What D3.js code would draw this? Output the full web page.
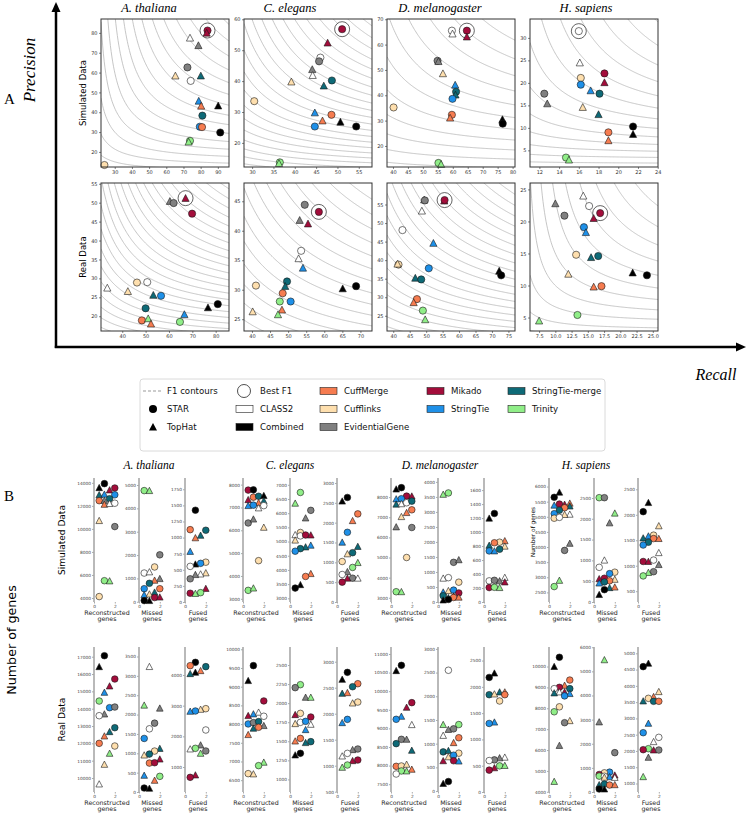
<!DOCTYPE html>
<html>
<head>
<meta charset="utf-8">
<script src="https://cdn.jsdelivr.net/npm/d3@7"></script>
<style>
  body { margin: 0; background: #fff; }
  svg { display: block; }
</style>
</head>
<body>
<svg id="chart" width="749" height="813"></svg>
<script>
// ---- methods / legend ----
const methodCodes  = ['CL', 'CO', 'CM', 'CU', 'EG', 'MI', 'ST', 'SM', 'TR'];
const methodNames  = ['CLASS2', 'Combined', 'CuffMerge', 'Cufflinks', 'EvidentialGene', 'Mikado', 'StringTie', 'StringTie-merge', 'Trinity'];
const methodColors = ['#ffffff', '#000000', '#f67c50', '#fedfae', '#808080', '#a30d3b', '#1e90e8', '#0e6a77', '#90ee88'];
const alignerNames = ['STAR', 'TopHat'];
const speciesNames = ['A. thaliana', 'C. elegans', 'D. melanogaster', 'H. sapiens'];
const rowNames     = ['Simulated Data', 'Real Data'];
const categoryNames = [['Reconstructed', 'genes'], ['Missed', 'genes'], ['Fused', 'genes']];

// ---- panel A: [method, aligner, recall, precision] ----
const athSim = [['MI','S',84.0,81.2],['MI','T',83.5,80.0],['CL','T',73.8,77.5],['EG','T',78.7,73.7],['EG','S',72.3,62.6],['CU','T',65.3,58.4],['SM','T',80.1,58.4],['CL','S',74.2,55.8],['ST','T',78.9,45.7],['CM','T',80.3,43.2],['CO','T',90.2,43.3],['SM','S',81.0,38.3],['ST','S',79.5,32.7],['CM','S',80.8,32.5],['CO','S',91.4,29.8],['TR','S',73.8,25.6],['TR','T',73.0,25.1],['CU','S',24.0,13.4]];
const celSim = [['MI','S',51.1,56.8],['MI','T',47.7,52.4],['CL','S',46.0,47.6],['EG','S',45.7,46.4],['EG','T',44.1,43.8],['CL','T',44.2,41.9],['SM','S',48.7,40.2],['CU','T',39.2,39.8],['SM','T',46.8,38.5],['CU','S',30.5,33.5],['ST','T',44.7,29.8],['CM','S',48.6,29.1],['CM','T',46.5,27.2],['CO','T',50.7,26.8],['ST','S',44.7,25.3],['CO','S',54.4,25.3],['TR','S',36.5,13.7],['TR','T',36.3,13.4]];
const dmeSim = [['CU','S',40.2,35.2],['CL','S',59.7,65.5],['CL','T',59.9,64.3],['MI','S',64.7,65.5],['MI','T',64.7,63.1],['EG','S',54.9,53.6],['EG','T',55.2,53.4],['CU','T',56.7,48.6],['ST','T',60.8,44.1],['SM','S',61.1,41.4],['SM','T',60.9,40.2],['ST','S',59.9,38.6],['CM','S',59.7,32.3],['CM','T',59.1,31.1],['CO','T',76.6,30.5],['CO','S',76.7,28.8],['TR','S',55.2,13.3],['TR','T',56.1,12.8]];
const hsaSim = [['CL','S',16.0,31.5],['CL','T',16.1,24.5],['MI','S',18.6,22.1],['MI','T',18.6,20.1],['CU','S',16.2,21.1],['ST','S',16.2,19.6],['ST','T',17.2,18.3],['EG','S',12.5,17.6],['SM','S',18.1,17.6],['EG','T',12.8,15.4],['CU','T',16.4,14.6],['SM','T',18.0,13.0],['CO','S',21.5,10.3],['CO','T',21.5,8.6],['CM','S',19.0,9.0],['CM','T',19.0,7.2],['TR','S',14.7,3.4],['TR','T',15.0,2.9]];
const athReal = [['MI','T',67.1,51.2],['EG','T',60.4,50.4],['EG','S',62.0,49.9],['MI','S',69.9,47.1],['CL','T',33.6,27.5],['CU','S',46.3,28.9],['CL','S',50.7,29.0],['CU','T',42.4,26.6],['SM','T',53.3,25.6],['ST','S',56.6,25.4],['SM','S',50.0,22.1],['CO','T',76.7,22.3],['CO','S',80.9,23.2],['ST','T',66.6,20.5],['CM','S',48.4,18.9],['TR','T',51.1,19.4],['CM','T',52.3,18.0],['TR','S',64.7,18.5]];
const celReal = [['EG','S',54.6,44.4],['MI','S',58.5,43.2],['EG','T',53.2,41.8],['MI','T',55.5,41.2],['CL','S',53.6,36.6],['CL','T',52.9,35.3],['ST','T',54.1,33.7],['SM','S',49.7,31.4],['SM','T',49.2,30.6],['CU','S',41.1,30.7],['CO','T',65.1,30.2],['CO','S',68.8,30.6],['CM','S',48.5,29.4],['TR','S',47.7,28.0],['ST','S',50.7,28.0],['CM','T',48.3,26.6],['CU','T',40.2,26.3],['TR','T',47.2,25.8]];
const dmeReal = [['EG','T',49.4,56.3],['EG','S',49.6,56.1],['MI','T',55.5,56.0],['MI','S',55.6,56.2],['CL','T',48.7,53.3],['CL','S',42.8,48.1],['CU','S',41.6,38.8],['CU','T',41.3,39.0],['ST','T',52.2,44.6],['ST','S',50.8,37.8],['SM','T',46.7,35.2],['SM','S',48.5,34.8],['CM','S',47.2,29.5],['CM','T',46.2,28.6],['CO','T',72.2,37.1],['CO','S',72.8,35.9],['TR','S',49.0,26.4],['TR','T',49.7,24.0]];
const hsaReal = [['CL','T',14.3,24.0],['EG','T',10.0,22.8],['CL','S',15.2,22.4],['MI','S',16.9,21.3],['EG','S',11.4,20.9],['MI','T',15.9,20.5],['ST','S',14.4,19.1],['ST','T',14.7,18.3],['CU','S',13.2,14.8],['SM','T',15.5,14.4],['SM','S',16.6,14.6],['CU','T',12.0,11.8],['CO','T',21.9,12.0],['CO','S',24.1,11.6],['CM','T',15.9,9.8],['CM','S',17.1,9.9],['TR','S',13.4,5.4],['TR','T',7.5,4.5]];

const prXDomains = [[22,96.5],[28.1,58.1],[38,80.8],[11.05,24.03],[30.9,85.7],[37.8,73.2],[38.1,77],[6.1,25.8]];
const prYDomains = [[12.4,87],[12.2,60.1],[11.7,70.1],[1.3,34.2],[16.1,55.2],[23,48.1],[20.9,60.8],[2.9,26]];
const prXTicks = [[30,40,50,60,70,80,90],[30,35,40,45,50,55],[40,45,50,55,60,65,70,75,80],[12,14,16,18,20,22,24],[40,50,60,70,80],[40,45,50,55,60,65,70],[40,45,50,55,60,65,70,75],[7.5,10,12.5,15,17.5,20,22.5,25]];
const prYTicks = [[20,30,40,50,60,70,80],[20,30,40,50,60],[20,30,40,50,60,70],[5,10,15,20,25,30],[20,25,30,35,40,45,50,55],[25,30,35,40,45],[25,30,35,40,45,50,55],[5,10,15,20,25]];

// ---- panel B: [method, aligner, x position, number of genes] ----
const athSimRec = [['CO','T',0.5,13580],['CO','S',1,13930],['MI','T',1.5,13380],['MI','S',2,13550],['SM','T',0.5,12960],['ST','T',1,13010],['ST','S',2,12960],['CM','S',0.5,12450],['EG','T',1,12470],['SM','S',1.5,12620],['CM','T',1,12130],['CL','T',1.5,12200],['CL','S',2,12230],['CU','T',0.5,10720],['EG','S',2,10200],['TR','S',1,5500],['TR','T',1.5,5480],['CU','S',0.5,4120]];
const athSimMis = [['TR','S',0.5,4760],['TR','T',1,4760],['EG','S',2,2010],['CU','S',1.5,1490],['CL','S',0.5,1230],['CL','T',1,1280],['EG','T',2,990],['CM','T',1.5,920],['SM','S',1,790],['ST','S',0.5,560],['CM','S',2,560],['SM','T',1.5,410],['ST','T',0.5,300],['CU','T',1,330],['MI','S',1.5,180],['MI','T',2,200],['CO','S',0.5,50],['CO','T',1,50]];
const athSimFus = [['CO','S',1,1425],['CM','S',0.5,1123],['SM','S',2,1114],['SM','T',1.5,1035],['CM','T',1,996],['ST','T',0.5,785],['CU','S',2,618],['ST','S',1.5,600],['CO','T',1,588],['CL','S',0.5,553],['CU','T',2,452],['CL','T',1.5,434],['EG','T',1,425],['EG','S',0.5,360],['MI','T',2,210],['TR','S',1.5,145],['MI','S',0.5,136],['TR','T',1,132]];
const celSimRec = [['MI','S',0.5,7760],['CO','S',1,7770],['MI','T',0.5,7340],['CM','S',1,7450],['SM','S',1.5,7490],['CO','T',2,7520],['SM','T',2,7290],['CM','T',1.5,7210],['ST','T',0.5,7080],['ST','S',1,7100],['CL','S',2,7080],['CL','T',1.5,6980],['EG','S',0.5,6320],['EG','T',1,6490],['CU','T',2,6130],['CU','S',1.5,4670],['TR','S',0.5,3370],['TR','T',1,3470]];
const celSimMis = [['TR','S',1,6730],['TR','T',0.5,6350],['EG','S',2,6100],['EG','T',1.5,5830],['CU','S',1,5320],['CL','T',0.5,5240],['CL','S',1,5200],['MI','S',1.5,5230],['MI','T',2,5230],['CU','T',0.5,5050],['ST','T',2,4870],['SM','T',1.5,4810],['SM','S',1,4750],['ST','S',0.5,4660],['CM','T',2,3870],['CM','S',1.5,3770],['CO','T',1,3480],['CO','S',0.5,3360]];
const celSimFus = [['CO','S',1,2636],['CO','T',0.5,2543],['CM','S',2,2221],['CM','T',1.5,2050],['ST','S',1,1757],['ST','T',0.5,1507],['SM','T',2,1400],['SM','S',1.5,1243],['CU','T',1,1214],['CU','S',0.5,1021],['TR','T',2,993],['TR','S',1.5,871],['EG','T',1,764],['CL','S',0.5,693],['EG','S',1.5,600],['CL','T',2,600],['MI','T',1,600],['MI','S',0.5,500]];
const dmeSimRec = [['CO','T',0.5,8400],['CO','S',1,8470],['MI','S',1.5,8050],['MI','T',2,8050],['ST','T',0.5,7910],['ST','S',1,7920],['SM','T',0.5,7650],['CL','T',1,7670],['CL','S',1.5,7720],['SM','S',2,7800],['CM','S',2,7370],['CM','T',1.5,7230],['CU','T',1,7030],['EG','T',0.5,6520],['EG','S',2,6490],['CU','S',1.5,5000],['TR','S',0.5,3300],['TR','T',1,3300]];
const dmeSimMis = [['TR','T',0.5,3585],['TR','S',1,3632],['EG','S',1.5,1321],['EG','T',2,1406],['CL','T',0.5,792],['CL','S',1,811],['CU','S',2,660],['ST','T',0.5,330],['CU','T',1,377],['ST','S',1.5,396],['MI','S',2,302],['SM','S',0.5,208],['MI','T',1.5,198],['SM','T',1,142],['CM','S',1.5,151],['CM','T',2,160],['CO','T',0.5,66],['CO','S',1,85]];
const dmeSimFus = [['CO','S',1,1266],['CO','T',0.5,1198],['CM','T',2,875],['CU','S',1.5,855],['CM','S',1,847],['SM','T',0.5,810],['CU','T',2,798],['SM','S',1.5,754],['ST','S',0.5,730],['ST','T',1,730],['CL','T',2,351],['CL','S',0.5,302],['EG','S',1,310],['EG','T',1.5,302],['MI','T',2,286],['MI','S',0.5,206],['TR','S',1,210],['TR','T',1.5,206]];
const hsaSimRec = [['CO','T',1,5813],['CO','S',0.5,5645],['MI','S',1,5421],['MI','T',1.5,5411],['CM','T',2,5449],['ST','T',0.5,5383],['SM','T',2,5355],['CM','S',1.5,5299],['SM','S',1,5215],['ST','S',0.5,5103],['CL','T',2,5084],['CU','T',1.5,5075],['CU','S',0.5,4953],['CL','S',1,4981],['EG','T',2,4121],['EG','S',1.5,3888],['TR','T',1,2897],['TR','S',0.5,2692]];
const hsaSimMis = [['TR','S',0.5,2507],['EG','S',1,2507],['TR','T',2,2135],['EG','T',1.5,1901],['CL','T',1,1006],['CL','S',0.5,833],['CU','S',2,716],['ST','S',1.5,682],['MI','T',0.5,558],['MI','S',1,572],['CU','T',2,544],['CM','S',1.5,510],['SM','S',1,482],['ST','T',0.5,455],['SM','T',1.5,344],['CM','T',2,358],['CO','S',1,296],['CO','T',0.5,179]];
const hsaSimFus = [['CO','T',1,2239],['CO','S',0.5,2061],['CU','T',2,1783],['CU','S',1.5,1600],['ST','T',1,1583],['SM','T',0.5,1544],['CM','S',1.5,1533],['CM','T',2,1533],['SM','S',1,1461],['ST','S',0.5,1406],['CL','T',2,1256],['CL','S',1.5,1111],['MI','S',0.5,1083],['MI','T',1,1083],['EG','T',2,1022],['EG','S',1.5,883],['TR','T',1,867],['TR','S',0.5,800]];
const athRealRec = [['CO','S',1,17058],['CO','T',0.5,16423],['MI','S',2,15712],['MI','T',1.5,15308],['ST','T',1,14942],['TR','S',0.5,14442],['ST','S',1.5,14058],['EG','S',2,14096],['EG','T',1,13692],['CL','S',0.5,13596],['SM','S',2,12904],['SM','T',1.5,12673],['CM','T',1,12423],['CM','S',0.5,12000],['CU','S',2,11846],['TR','T',1.5,11423],['CU','T',1,10788],['CL','T',0.5,9654]];
const athRealMis = [['CL','T',1,3239],['TR','T',0.5,2242],['EG','T',2,2165],['EG','S',1.5,1778],['CL','S',1,1632],['ST','S',0.5,1383],['SM','T',2,1125],['CU','S',1.5,1057],['SM','S',1,979],['CU','T',0.5,954],['MI','T',2,850],['CM','S',1,747],['MI','S',1.5,756],['ST','T',0.5,430],['TR','S',2,404],['CM','T',1.5,301],['CO','S',0.5,103],['CO','T',1,95]];
const athRealFus = [['CO','S',1,4413],['CM','S',0.5,4304],['SM','S',2,4272],['CM','T',1.5,4141],['CO','T',1,4087],['SM','T',0.5,4043],['CU','S',2,2902],['CU','T',1.5,2880],['ST','S',1,2826],['ST','T',0.5,2815],['CL','S',2,2207],['EG','T',1.5,1717],['TR','S',1,1609],['CL','T',0.5,1587],['EG','S',2,1522],['TR','T',1.5,1446],['MI','T',1,739],['MI','S',0.5,663]];
const celRealRec = [['CO','S',1,9563],['CO','T',0.5,9162],['MI','S',2,8619],['MI','T',0.5,8226],['ST','T',1,8271],['CL','T',1.5,8316],['CL','S',2,8209],['ST','S',0.5,8004],['EG','S',1,8039],['SM','S',1.5,8066],['EG','T',2,7959],['SM','T',1,7888],['CM','S',1.5,7914],['CM','T',0.5,7718],['TR','T',2,6979],['TR','S',1.5,6889],['CU','S',0.5,6675],['CU','T',1,6667]];
const celRealMis = [['TR','S',1,2242],['EG','S',0.5,2203],['EG','T',1.5,2076],['TR','T',2,2076],['CU','S',1,1866],['MI','T',0.5,1849],['MI','S',2,1818],['CL','S',1,1748],['ST','S',1.5,1761],['CU','T',0.5,1731],['CL','T',2,1722],['ST','T',1.5,1652],['CM','S',1,1538],['CM','T',0.5,1503],['SM','S',2,1495],['SM','T',1.5,1482],['CO','S',1,1342],['CO','T',0.5,1320]];
const celRealFus = [['CO','S',1,2795],['CO','T',0.5,2660],['CM','S',2,2577],['SM','S',1.5,2519],['SM','T',0.5,2391],['CM','T',1,2404],['CU','S',2,2224],['CU','T',1.5,2205],['ST','S',1,1891],['ST','T',0.5,1827],['EG','S',2,1321],['EG','T',1.5,1308],['CL','S',1,1237],['CL','T',0.5,1186],['MI','S',2,1109],['MI','T',1.5,1096],['TR','S',1,1013],['TR','T',0.5,968]];
const dmeRealRec = [['CO','S',1,10695],['CO','T',0.5,10552],['MI','S',2,9692],['MI','T',1.5,9566],['ST','T',1,9324],['ST','S',0.5,9244],['CL','T',2,9100],['EG','S',1,8706],['EG','T',1.5,8706],['SM','S',0.5,8590],['SM','T',2,8410],['CM','S',0.5,7980],['CU','S',1,7989],['CU','T',1.5,8034],['CM','T',2,7900],['TR','S',1,7855],['TR','T',1.5,7855],['CL','S',0.5,7774]];
const dmeRealMis = [['CL','S',1,2549],['TR','T',0.5,1403],['TR','S',2,1403],['EG','T',1,1299],['EG','S',1.5,1313],['CL','T',0.5,1174],['CM','S',2,1125],['CM','T',1.5,1021],['SM','S',0.5,826],['SM','T',1,854],['CU','S',2,799],['ST','S',1.5,757],['CU','T',1,722],['MI','T',0.5,639],['MI','S',1.5,639],['ST','T',2,632],['CO','S',1,201],['CO','T',0.5,160]];
const dmeRealFus = [['CO','T',1,2261],['CO','S',0.5,2179],['SM','T',1.5,1902],['CM','T',2,1902],['SM','S',0.5,1851],['CU','T',1,1864],['CM','S',2,1851],['CU','S',1.5,1731],['ST','T',1,1329],['ST','S',0.5,1304],['CL','T',2,661],['EG','T',1.5,649],['EG','S',1,611],['CL','S',0.5,598],['TR','S',1.5,497],['TR','T',2,504],['MI','T',1,460],['MI','S',0.5,416]];
const hsaRealRec = [['CO','S',1,10443],['CO','T',0.5,10000],['CM','S',2,9351],['CM','T',1.5,9098],['MI','S',1,9003],['CL','S',0.5,8940],['SM','S',2,8940],['CL','T',1,8782],['MI','T',1.5,8782],['SM','T',0.5,8734],['ST','T',2,8703],['ST','S',1.5,8592],['CU','S',1,8070],['TR','S',0.5,7832],['CU','T',2,7405],['EG','S',1.5,7310],['EG','T',1,6218],['TR','T',0.5,4494]];
const hsaRealMis = [['TR','T',1,5479],['EG','T',0.5,2904],['EG','S',2,1630],['ST','S',1.5,822],['CU','S',1,795],['MI','S',0.5,726],['MI','T',2,699],['TR','S',0.5,658],['CL','S',1,650],['ST','T',1.5,630],['CU','T',1,610],['CL','T',2,603],['SM','T',0.5,301],['SM','S',1,329],['CM','S',1.5,288],['CM','T',2,301],['CO','S',0.5,123],['CO','T',1,123]];
const hsaRealFus = [['CO','T',1,4693],['CO','S',0.5,4590],['CU','T',2,3822],['CM','T',1.5,3668],['CU','S',1,3617],['SM','T',0.5,3535],['SM','S',1.5,3525],['CM','S',2,3525],['ST','T',1,2848],['ST','S',0.5,2561],['CL','S',2,2418],['CL','T',1.5,2285],['TR','S',1,2070],['MI','S',0.5,2039],['MI','T',1.5,2029],['EG','S',2,2029],['EG','T',1,1803],['TR','T',0.5,1209]];

// y domain and tick step per small panel: [low, high, step]
const geneAxesSim  = [[3650,14420,2000],[-10,5300,1000],[0,1925,250],[2860,8290,1000],[2870,7240,500],[0,3126,500],[2790,8950,1000],[0,4130,500],[0,1773,200],[2182,6283,500],[0,2980,500],[288,2722,500]];
const geneAxesReal = [[9193,17560,1000],[0,3745,500],[185,4913,1000],[6184,10061,500],[835,2736,250],[494,3283,500],[7290,11188,500],[-20,3040,500],[0,2758,500],[3990,10935,1000],[0,6010,1000],[739,5194,500]];

// ---------------------------------------------------------------
const svg = d3.select('#chart');
const SANS = 'DejaVu Sans';
const SERIF = 'Liberation Serif';
const colorOf = code => methodColors[methodCodes.indexOf(code)];
const f1 = (r, p) => 2 * r * p / (r + p);

function markerPath(aligner, r) {
  if (aligner === 'S') return d3.symbol(d3.symbolCircle, Math.PI * r * r)();
  return `M0,${-r}L${r},${r * 0.9}L${-r},${r * 0.9}Z`;
}

function drawMarkers(g, data, x, y, r) {
  g.selectAll('path.pt')
    .data(data)
    .join('path')
    .attr('class', 'pt')
    .attr('transform', d => `translate(${x(d[2])},${y(d[3])})`)
    .attr('d', d => markerPath(d[1], r))
    .attr('fill', d => colorOf(d[0]))
    .attr('stroke', '#1a1a1a')
    .attr('stroke-width', 0.6);
}

// ---------------- Panel A ----------------
const prData = [athSim, celSim, dmeSim, hsaSim, athReal, celReal, dmeReal, hsaReal];
const prCols = [101, 244, 387, 530];
const prRows = [19, 183];
const prW = 128, prH = 148;

prData.forEach((data, i) => {
  const col = i % 4, row = Math.floor(i / 4);
  const g = svg.append('g').attr('transform', `translate(${prCols[col]},${prRows[row]})`);
  const xd = prXDomains[i], yd = prYDomains[i];
  const x = d3.scaleLinear().domain(xd).range([0, prW]);
  const y = d3.scaleLinear().domain(yd).range([prH, 0]);

  const clipId = `clipA${i}`;
  g.append('clipPath').attr('id', clipId)
    .append('rect').attr('width', prW).attr('height', prH);

  // F1 contours
  const fmin = f1(xd[0], yd[0]), fmax = f1(xd[1], yd[1]);
  const levels = d3.ticks(fmin, fmax, 15).filter(f => f > fmin && f < fmax);
  const line = d3.line().x(d => x(d[0])).y(d => y(d[1]));
  const cg = g.append('g').attr('clip-path', `url(#${clipId})`);
  levels.forEach(f => {
    const pTop = yd[1] * 1.3;
    const rStart = Math.max(xd[0], f * pTop / (2 * pTop - f));
    const pts = d3.range(0, 161).map(k => {
      const r = rStart + (xd[1] - rStart) * k / 160;
      return [r, f * r / (2 * r - f)];
    });
    cg.append('path').attr('d', line(pts))
      .attr('fill', 'none').attr('stroke', '#b8b8b8').attr('stroke-width', 0.8);
  });

  // best F1 ring
  const best = d3.greatest(data, d => f1(d[2], d[3]));
  g.append('circle')
    .attr('cx', x(best[2])).attr('cy', y(best[3])).attr('r', 7.5)
    .attr('fill', '#fff').attr('stroke', '#222').attr('stroke-width', 0.7);

  drawMarkers(g, data, x, y, 3.6);

  g.append('rect').attr('width', prW).attr('height', prH)
    .attr('fill', 'none').attr('stroke', '#333').attr('stroke-width', 1);

  const xfmt = i === 7 ? d3.format('.1f') : d3.format('d');
  g.append('g').attr('transform', `translate(0,${prH})`)
    .call(d3.axisBottom(x).tickValues(prXTicks[i]).tickSize(2).tickPadding(1.5).tickFormat(xfmt))
    .call(ax => ax.select('.domain').remove())
    .call(ax => ax.selectAll('text').attr('font-size', '5px').attr('font-family', SANS).attr('fill', '#333'))
    .call(ax => ax.selectAll('line').attr('stroke', '#333').attr('stroke-width', 0.6));
  g.append('g')
    .call(d3.axisLeft(y).tickValues(prYTicks[i]).tickSize(2).tickPadding(1.5).tickFormat(d3.format('d')))
    .call(ax => ax.select('.domain').remove())
    .call(ax => ax.selectAll('text').attr('font-size', '5px').attr('font-family', SANS).attr('fill', '#333'))
    .call(ax => ax.selectAll('line').attr('stroke', '#333').attr('stroke-width', 0.6));
});

const titleX = [149, 290, 440, 586];
speciesNames.forEach((s, i) => {
  svg.append('text').attr('x', titleX[i]).attr('y', 12)
    .attr('text-anchor', 'middle').attr('font-family', SERIF).attr('font-style', 'italic')
    .attr('font-size', '12.5px').text(s);
  svg.append('text').attr('x', titleX[i]).attr('y', 469)
    .attr('text-anchor', 'middle').attr('font-family', SERIF).attr('font-style', 'italic')
    .attr('font-size', '11.5px').text(s);
});

rowNames.forEach((r, i) => {
  svg.append('text')
    .attr('transform', `translate(86,${prRows[i] + prH / 2}) rotate(-90)`)
    .attr('text-anchor', 'middle').attr('font-family', SANS).attr('font-size', '8.5px')
    .text(r);
});

// big arrows
svg.append('line').attr('x1', 56).attr('y1', 348).attr('x2', 56).attr('y2', 10)
  .attr('stroke', '#000').attr('stroke-width', 2.5);
svg.append('path').attr('d', 'M56,2L51.5,12L60.5,12Z').attr('fill', '#000');
svg.append('line').attr('x1', 54.8).attr('y1', 347).attr('x2', 737).attr('y2', 347)
  .attr('stroke', '#000').attr('stroke-width', 2.5);
svg.append('path').attr('d', 'M746,347L736,342.5L736,351.5Z').attr('fill', '#000');

svg.append('text').attr('transform', 'translate(35,70) rotate(-90)')
  .attr('text-anchor', 'middle').attr('font-family', SERIF).attr('font-style', 'italic')
  .attr('font-size', '17px').text('Precision');
svg.append('text').attr('x', 716).attr('y', 380)
  .attr('text-anchor', 'middle').attr('font-family', SERIF).attr('font-style', 'italic')
  .attr('font-size', '16px').text('Recall');

svg.append('text').attr('x', 4).attr('y', 104).attr('font-family', SERIF).attr('font-size', '15px').text('A');
svg.append('text').attr('x', 4).attr('y', 501).attr('font-family', SERIF).attr('font-size', '15px').text('B');

// ---------------- Legend ----------------
const lg = svg.append('g');
lg.append('rect').attr('x', 140).attr('y', 379).attr('width', 465).attr('height', 72).attr('rx', 3)
  .attr('fill', '#fff').attr('stroke', '#d0d0d0').attr('stroke-width', 0.8);
const legRowY = [391, 409, 427];
const legText = (x, y, t) => lg.append('text').attr('x', x).attr('y', y + 3.2)
  .attr('font-family', SANS).attr('font-size', '8.6px').attr('fill', '#111').text(t);

lg.append('line').attr('x1', 143).attr('x2', 163).attr('y1', legRowY[0]).attr('y2', legRowY[0])
  .attr('stroke', '#999').attr('stroke-width', 1).attr('stroke-dasharray', '3,2');
legText(167, legRowY[0], 'F1 contours');
alignerNames.forEach((a, k) => {
  lg.append('path').attr('transform', `translate(153,${legRowY[k + 1]})`)
    .attr('d', markerPath(a[0] === 'S' ? 'S' : 'T', 4)).attr('fill', '#000');
  legText(167, legRowY[k + 1], a);
});
lg.append('circle').attr('cx', 244).attr('cy', legRowY[0]).attr('r', 6.5)
  .attr('fill', '#fff').attr('stroke', '#222').attr('stroke-width', 0.8);
legText(260, legRowY[0], 'Best F1');

const legSlots = [[236, 1], [236, 2], [320, 0], [320, 1], [320, 2], [427, 0], [427, 1], [508, 0], [508, 1]];
methodNames.forEach((m, k) => {
  const [lx, r] = legSlots[k];
  lg.append('rect').attr('x', lx).attr('y', legRowY[r] - 3.5).attr('width', 17).attr('height', 7)
    .attr('fill', methodColors[k]).attr('stroke', '#222').attr('stroke-width', 0.6);
  legText(lx + 24, legRowY[r], m);
});

// ---------------- Panel B ----------------
const geneData = [
  [athSimRec, athSimMis, athSimFus, celSimRec, celSimMis, celSimFus, dmeSimRec, dmeSimMis, dmeSimFus, hsaSimRec, hsaSimMis, hsaSimFus],
  [athRealRec, athRealMis, athRealFus, celRealRec, celRealMis, celRealFus, dmeRealRec, dmeRealMis, dmeRealFus, hsaRealRec, hsaRealMis, hsaRealFus]
];
const geneAxes = [geneAxesSim, geneAxesReal];
const geneAxisX = [94, 139, 185, 243, 290, 337, 391, 438, 484, 549, 594, 638];
const geneTop = [478, 647], geneBottom = [602, 792];

geneData.forEach((rowData, row) => {
  rowData.forEach((data, j) => {
    const [lo, hi, step] = geneAxes[row][j];
    const ax = geneAxisX[j];
    const x = d3.scaleLinear().domain([0, 2.5]).range([ax, ax + 26]);
    const y = d3.scaleLinear().domain([lo, hi]).range([geneBottom[row], geneTop[row]]);
    const g = svg.append('g');

    const ticks = d3.range(Math.ceil(lo / step) * step, hi + 1e-6, step);
    g.append('g').attr('transform', `translate(${ax},0)`)
      .call(d3.axisLeft(y).tickValues(ticks).tickSize(2).tickPadding(1).tickFormat(d3.format('d')))
      .call(a => a.select('.domain').remove())
      .call(a => a.selectAll('text').attr('font-size', '4.3px').attr('font-family', SANS).attr('fill', '#444'))
      .call(a => a.selectAll('line').attr('stroke', '#555').attr('stroke-width', 0.5));
    g.append('g').attr('transform', `translate(0,${geneBottom[row]})`)
      .call(d3.axisBottom(x).tickValues([0, 2]).tickSize(1.5).tickPadding(1).tickFormat(d3.format('d')))
      .call(a => a.select('.domain').remove())
      .call(a => a.selectAll('text').attr('font-size', '4.3px').attr('font-family', SANS).attr('fill', '#444'))
      .call(a => a.selectAll('line').attr('stroke', '#555').attr('stroke-width', 0.5));
    g.append('line').attr('x1', ax).attr('x2', ax)
      .attr('y1', geneTop[row]).attr('y2', geneBottom[row])
      .attr('stroke', '#a8a8a8').attr('stroke-width', 1.6);

    drawMarkers(g, data, x, y, 3.3);

    const cat = categoryNames[j % 3];
    const lab = g.append('text').attr('text-anchor', 'middle')
      .attr('font-family', SANS).attr('font-size', '6.3px').attr('fill', '#222');
    cat.forEach((t, k) => lab.append('tspan')
      .attr('x', ax + 13).attr('y', geneBottom[row] + 12.5 + k * 6.2).text(t));
  });
});

rowNames.forEach((r, i) => {
  svg.append('text')
    .attr('transform', `translate(65,${(geneTop[i] + geneBottom[i]) / 2}) rotate(-90)`)
    .attr('text-anchor', 'middle').attr('font-family', SANS).attr('font-size', '9px')
    .text(r);
});
svg.append('text').attr('transform', 'translate(16,640) rotate(-90)')
  .attr('text-anchor', 'middle').attr('font-family', SANS).attr('font-size', '12.7px')
  .text('Number of genes');
svg.append('text').attr('transform', 'translate(535,532) rotate(-90)')
  .attr('text-anchor', 'middle').attr('font-family', SANS).attr('font-size', '5.8px')
  .text('Number of genes');
</script>
</body>
</html>
